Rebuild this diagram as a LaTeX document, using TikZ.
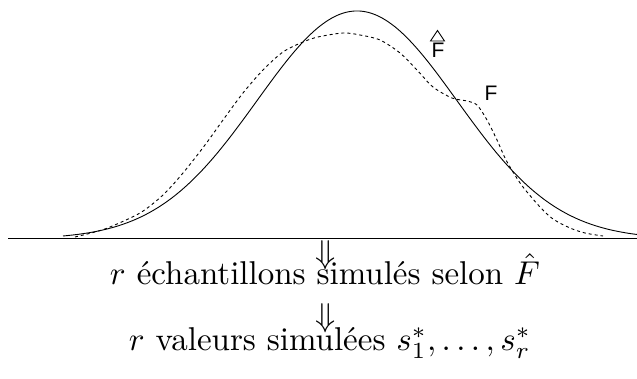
\documentclass[tikz,border=0pt]{standalone}
\usepackage{fontspec}
\newfontfamily\helv{Liberation Sans}
\usetikzlibrary{calc}
\tikzset{
  curve/.style={line width=0.9pt, line join=round},
  dcurve/.style={line width=0.9pt, dash pattern=on 3pt off 3pt},
  axisline/.style={line width=1pt},
  lab/.style={font=\helv\fontsize{21}{25}\selectfont, inner sep=0pt},
  big/.style={font=\normalsize, scale=3.3, inner sep=0pt},
}
\begin{document}
\begin{tikzpicture}[x=1pt,y=-1pt]
\useasboundingbox (0,0) rectangle (637,379);
% axis
\coordinate (axL) at (8,239);
\coordinate (axR) at (637,239);
\draw[axisline] (axL) -- (axR);
% solid curve (estimated F hat)
\draw[curve] plot[domain=63:637, samples=200] (\x, {239-228*exp(-(((\x-357)/100)^2)/2.0)});
% dashed curve (true F)
\draw[dcurve] plot[smooth, tension=0.5] coordinates {
 (75,237) (95,232) (110,227) (140,213) (163,195) (183,173) (205,145)
 (223,120) (243,93) (263,70) (283,52) (303,42) (318,37) (343,33)
 (360,35) (380,40) (400,53) (417,70) (433,87) (452,98) (467,101)
 (477,105) (487,120) (497,140) (505,158) (513,172) (523,187) (540,207)
 (553,219) (570,228) (585,233) (603,236)};
% labels
\node[lab] (fhat) at (438,50.5) {F};
\draw[line width=0.9pt, line join=miter] (430.5,41) -- (437.5,30.5) -- (444.5,41) -- cycle;
\node[lab] (ftrue) at (491,93.5) {F};
% text
\node[big, anchor=base] (t1) at (325,285) {$r$ échantillons simulés selon $\hat F$};
\node[big, anchor=base] (t2) at (330,350) {$r$ valeurs simulées $s_1^*,\dots,s_r^*$};
\node[big, anchor=base] (a1) at (326,264) {$\Downarrow$};
\node[big, anchor=base] (a2) at (326,326) {$\Downarrow$};
\end{tikzpicture}
\end{document}
